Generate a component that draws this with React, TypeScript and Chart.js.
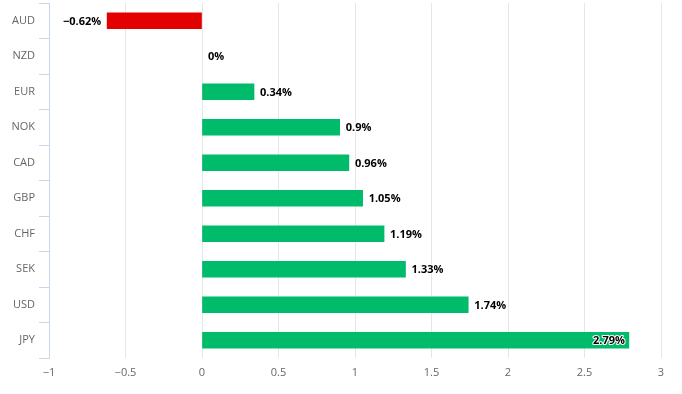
import React, { useEffect, useRef } from "react";
import { Chart, registerables } from "chart.js";

Chart.register(...registerables);

const currencies = ["AUD", "NZD", "EUR", "NOK", "CAD", "GBP", "CHF", "SEK", "USD", "JPY"];
const changes = [-0.62, 0, 0.34, 0.9, 0.96, 1.05, 1.19, 1.33, 1.74, 2.79];
const xMin = -1;
const xMax = 3;
const xStep = 0.5;

const POS = "#00bb6a";
const NEG = "#e30000";
const FONT = "'Open Sans', 'Noto Sans', sans-serif";

const fmt = (v: number) => (v < 0 ? "\u2212" + String(Math.abs(v)) : String(v));

const labelPlugin = {
  id: "barLabels",
  afterDatasetsDraw(chart: any) {
    const ctx = chart.ctx;
    const area = chart.chartArea;
    const meta = chart.getDatasetMeta(0);
    ctx.save();
    ctx.font = "bold 11px " + FONT;
    ctx.textBaseline = "middle";
    ctx.lineJoin = "round";
    meta.data.forEach((el: any, i: number) => {
      const v = changes[i];
      const text = fmt(v) + "%";
      const w = ctx.measureText(text).width;
      let x: number;
      let align: CanvasTextAlign;
      if (v < 0) {
        x = el.x - 6;
        align = "right";
      } else if (el.x + 6 + w <= area.right - 10) {
        x = el.x + 6;
        align = "left";
      } else {
        x = el.x - 4;
        align = "right";
      }
      ctx.textAlign = align;
      ctx.strokeStyle = "#ffffff";
      ctx.lineWidth = 2;
      ctx.strokeText(text, x, el.y + 1);
      ctx.fillStyle = "#000000";
      ctx.fillText(text, x, el.y + 1);
    });
    ctx.restore();
  },
};

export default function App() {
  const ref = useRef<HTMLCanvasElement | null>(null);
  useEffect(() => {
    document.body.style.margin = "0";
    const canvas = ref.current!;
    const chart = new Chart(canvas, {
      type: "bar",
      data: {
        labels: currencies,
        datasets: [
          {
            data: changes,
            backgroundColor: changes.map((v) => (v < 0 ? NEG : v === 0 ? "rgba(0,0,0,0)" : POS)),
            barThickness: 16,
            borderWidth: 0,
          },
        ],
      },
      options: {
        indexAxis: "y",
        animation: false,
        responsive: false,
        maintainAspectRatio: false,
        layout: { padding: { top: 3, right: 21, left: 0, bottom: 0 } },
        plugins: {
          legend: { display: false },
          tooltip: { enabled: false },
        },
        scales: {
          x: {
            min: xMin,
            max: xMax,
            afterFit: (s: any) => {
              s.height = 36;
              s.paddingLeft = 0;
              s.paddingRight = 0;
            },
            ticks: {
              stepSize: xStep,
              color: "#666666",
              font: { size: 11, family: FONT },
              padding: 8,
              callback: (v: any) => fmt(Number(v)),
            },
            grid: { color: "#e6e6e6", drawTicks: false },
            border: { display: false },
          },
          y: {
            afterFit: (s: any) => {
              s.width = 49;
              s.paddingTop = 0;
              s.paddingBottom = 0;
            },
            ticks: {
              color: "#666666",
              font: { size: 11, family: FONT },
              padding: 4,
            },
            grid: {
              offset: true,
              drawOnChartArea: false,
              drawTicks: true,
              tickLength: 10,
              color: "#ccd6eb",
            },
            border: { display: true, color: "#ccd6eb" },
          },
        },
      },
      plugins: [labelPlugin],
    });
    return () => chart.destroy();
  }, []);
  return (
    <div style={{ width: 682, height: 394 }}>
      <canvas ref={ref} width={682} height={394} style={{ display: "block" }} />
    </div>
  );
}
